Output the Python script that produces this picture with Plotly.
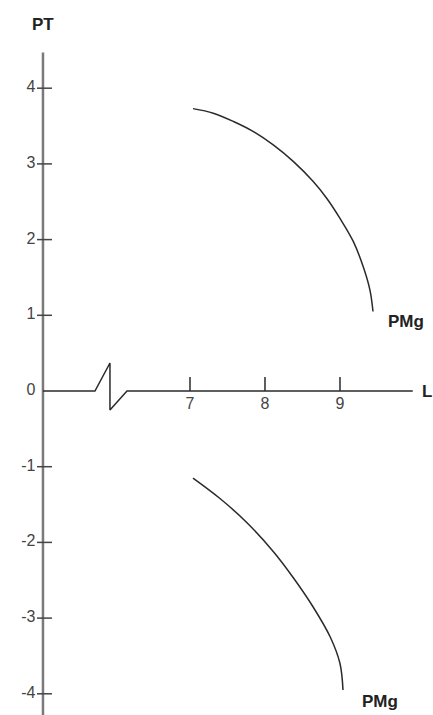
import plotly.graph_objects as go

# Upper PMg curve (positive region)
upper_L = [7.04, 7.31, 7.58, 7.84, 8.11, 8.38, 8.64, 8.82, 9.00, 9.18, 9.31, 9.40, 9.44]
upper_P = [3.73, 3.67, 3.56, 3.43, 3.25, 3.03, 2.77, 2.55, 2.28, 1.97, 1.64, 1.33, 1.05]

# Lower PMg curve (negative region)
lower_L = [7.04, 7.40, 7.76, 8.11, 8.38, 8.64, 8.87, 9.00, 9.04]
lower_P = [-1.15, -1.42, -1.74, -2.12, -2.47, -2.85, -3.25, -3.60, -3.95]

x_ticks = [7, 8, 9]
y_ticks = [4, 3, 2, 1, 0, -1, -2, -3, -4]
y_tick_labels = ["4", "3", "2", "1", "0", "-1", "-2", "-3", "-4"]

# axis geometry (data units)
X0 = 5.04          # where the vertical axis sits
X_END = 9.97       # right end of the horizontal axis
Y_TOP = 4.47
Y_BOT = -4.6
BREAK = [(5.733, 0.0), (5.933, 0.37), (5.933, -0.25), (6.16, 0.0)]

FONT = "Liberation Sans, Arial, sans-serif"
INK = "#2a2a2a"

fig = go.Figure()

# vertical axis
fig.add_trace(go.Scatter(x=[X0, X0], y=[Y_TOP, Y_BOT], mode="lines",
                         line=dict(color="#7a7a7a", width=2.5), hoverinfo="skip"))
# y tick marks
for t in y_ticks:
    if t == 0:
        continue
    fig.add_trace(go.Scatter(x=[X0 - 0.08, X0 + 0.12], y=[t, t], mode="lines",
                             line=dict(color="#444", width=1.5), hoverinfo="skip"))
# y tick labels
fig.add_trace(go.Scatter(x=[X0 - 0.1] * len(y_ticks), y=y_ticks, mode="text",
                         text=y_tick_labels, textposition="middle left",
                         textfont=dict(family=FONT, size=16, color="#444"),
                         hoverinfo="skip"))

# horizontal axis with break mark
bx = [X0] + [p[0] for p in BREAK] + [X_END]
by = [0.0] + [p[1] for p in BREAK] + [0.0]
fig.add_trace(go.Scatter(x=bx, y=by, mode="lines",
                         line=dict(color=INK, width=1.5), hoverinfo="skip"))
# x tick marks
for t in x_ticks:
    fig.add_trace(go.Scatter(x=[t, t], y=[0, 0.185], mode="lines",
                             line=dict(color=INK, width=1.5), hoverinfo="skip"))
fig.add_trace(go.Scatter(x=x_ticks, y=[-0.19] * len(x_ticks), mode="text",
                         text=[str(t) for t in x_ticks], textposition="middle center",
                         textfont=dict(family=FONT, size=16, color="#444"),
                         hoverinfo="skip"))

# curves
fig.add_trace(go.Scatter(x=upper_L, y=upper_P, mode="lines", line_shape="spline",
                         line=dict(color=INK, width=1.5, smoothing=1.0), hoverinfo="skip"))
fig.add_trace(go.Scatter(x=lower_L, y=lower_P, mode="lines", line_shape="spline",
                         line=dict(color=INK, width=1.5, smoothing=1.0), hoverinfo="skip"))

# axis titles and curve labels
labels = [
    ("PT", X0, 4.84),
    ("L", 10.16, 0.0),
    ("PMg", 9.88, 0.92),
    ("PMg", 9.53, -4.10),
]
for txt, lx, ly in labels:
    fig.add_annotation(x=lx, y=ly, text=f"<b>{txt}</b>", showarrow=False,
                       font=dict(family=FONT, size=17, color="#222"),
                       xanchor="center", yanchor="middle")

fig.update_layout(
    width=433, height=715,
    margin=dict(l=0, r=0, t=0, b=0),
    paper_bgcolor="white", plot_bgcolor="white",
    showlegend=False,
    xaxis=dict(range=[4.467, 10.24], visible=False, fixedrange=True),
    yaxis=dict(range=[-4.28, 5.165], visible=False, fixedrange=True),
)

fig.write_html("out.html")
